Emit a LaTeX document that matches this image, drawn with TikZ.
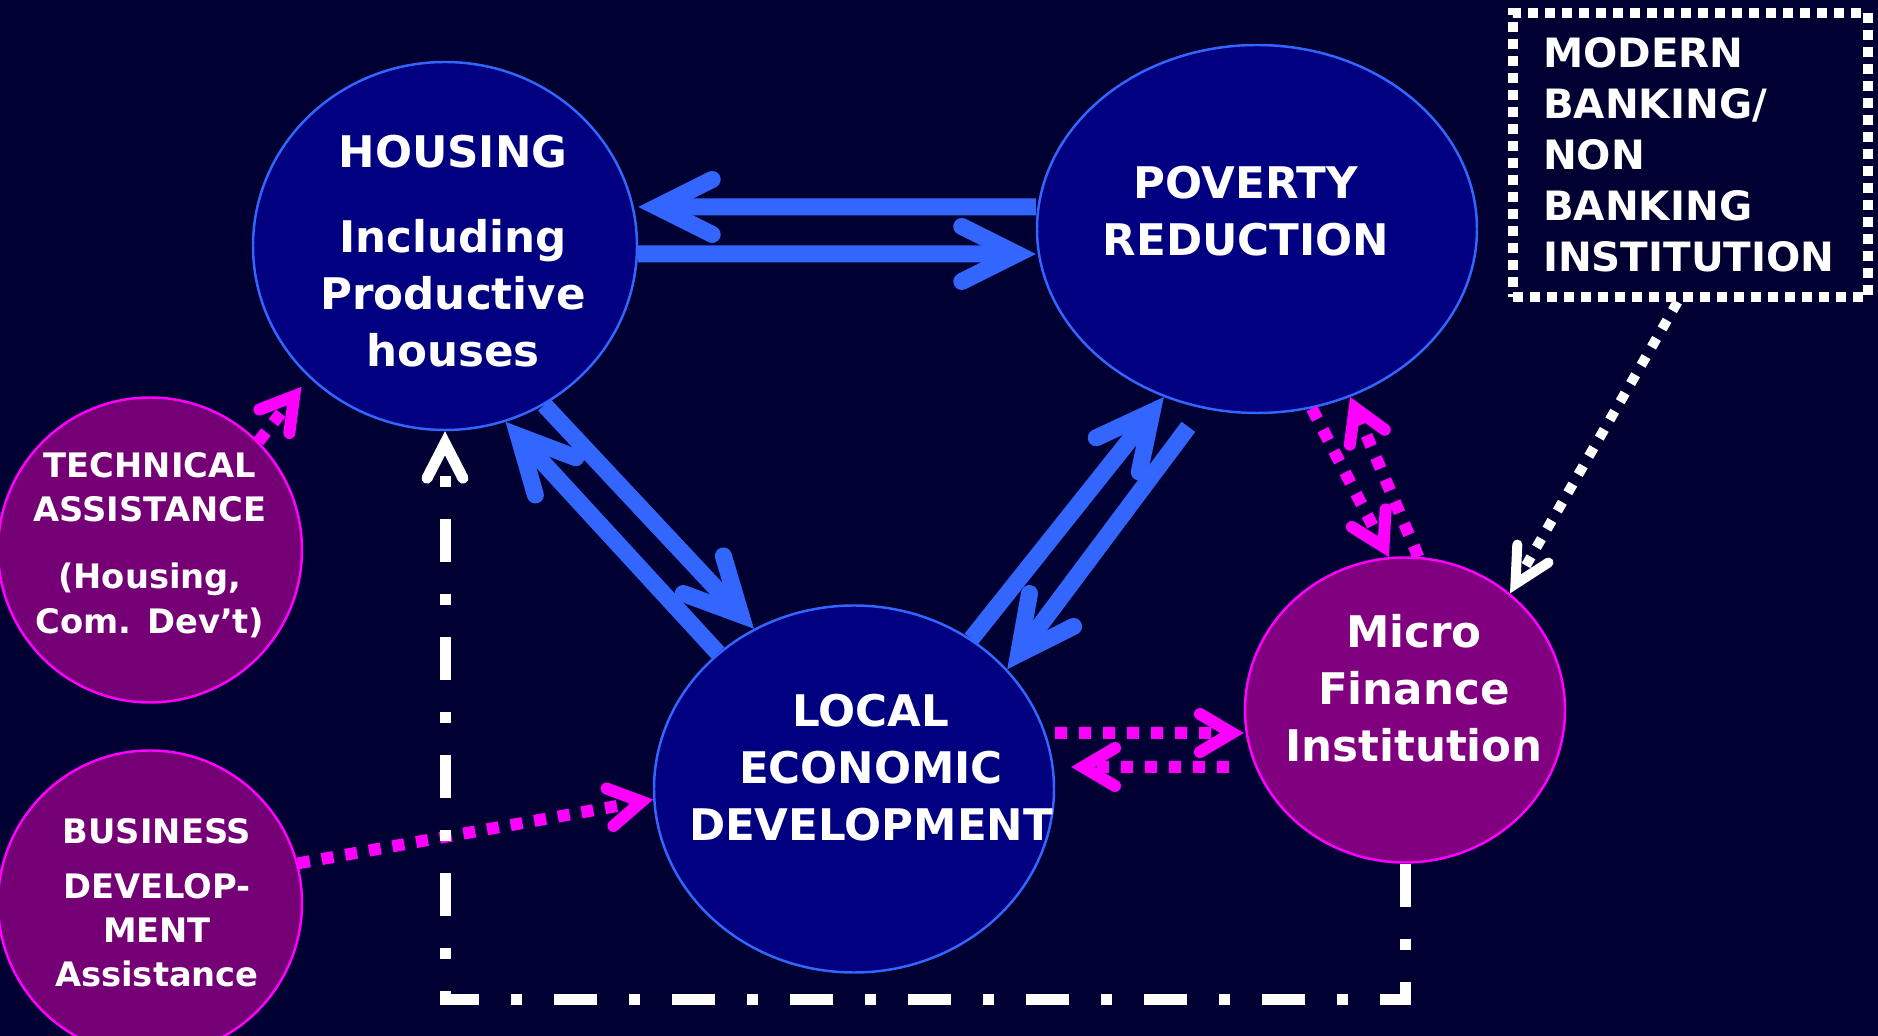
\documentclass[tikz,border=0pt]{standalone}
\usepackage{fontspec}
\setmainfont{DejaVu Sans}
\usepackage{tikz}
\usetikzlibrary{arrows.meta,shapes.geometric}
\definecolor{night}{HTML}{000033}
\definecolor{navy}{HTML}{000080}
\definecolor{linkblue}{HTML}{3366FF}
\definecolor{plum}{HTML}{800080}
\definecolor{darkplum}{HTML}{750075}
\definecolor{pink}{HTML}{FF00FF}
\tikzset{
  flow/.style={-{Straight Barb[length=5.5mm,width=5.5mm,line cap=round,line join=miter]},
    line width=1.7mm,draw=linkblue},
  dotflow/.style={-{Straight Barb[length=3.2mm,width=3.8mm,line cap=round,line join=miter]},
    line width=1.2mm,draw=pink,dash pattern=on 1.2mm off 1.2mm},
  whiteflow/.style={-{Straight Barb[length=3.5mm,width=3.6mm,line cap=round,line join=miter]},
    line width=1mm,draw=white,dash pattern=on 1mm off 1.1mm},
  loopflow/.style={-{Straight Barb[length=3.5mm,width=3.6mm,line cap=round,line join=miter]},
    line width=1.1mm,draw=white,dash pattern=on 4.3mm off 3.2mm on 1.1mm off 3.2mm},
  bigcircle/.style={ellipse,draw=linkblue,line width=0.7pt,fill=navy,inner sep=0pt},
  smallcircle/.style={ellipse,draw=pink,line width=0.7pt,fill=plum,inner sep=0pt},
  bigtext/.style={text=white,align=center,font=\bfseries\fontsize{12.4}{16.2}\selectfont},
  smalltext/.style={text=white,align=center,font=\bfseries\fontsize{9.6}{12.6}\selectfont},
  bankbox/.style={draw=white,line width=1mm,dash pattern=on 1mm off 0.7mm,text=white,
    align=left,text width=2.95cm,minimum width=3.55cm,minimum height=2.84cm,
    inner xsep=0.3cm,font=\bfseries\fontsize{11.5}{14.5}\selectfont}
}

\begin{document}
\begin{tikzpicture}
  \useasboundingbox (0,0) rectangle (18.78,10.36);
  \fill[night] (0,0) rectangle (18.78,10.36);

  \node[bigcircle,minimum width=3.84cm,minimum height=3.68cm] (housing) at (4.45,7.90) {};
  \node[bigcircle,minimum width=4.40cm,minimum height=3.68cm] (poverty) at (12.57,8.07) {};
  \node[bigcircle,minimum width=4.00cm,minimum height=3.67cm] (led) at (8.54,2.47) {};
  \node[smallcircle,minimum width=3.20cm,minimum height=3.05cm] (micro) at (14.05,3.26) {};
  \node[smallcircle,fill=darkplum,minimum width=3.04cm,minimum height=3.05cm] (tech) at (1.50,4.86) {};
  \node[smallcircle,fill=darkplum,minimum width=3.04cm,minimum height=3.05cm] (business) at (1.50,1.33) {};
  \node[bankbox] (bank) at (16.905,8.81) {MODERN\\BANKING/\\NON\\BANKING\\INSTITUTION};

  \node[bigtext] (housing-text) at (4.53,7.845) {HOUSING\\[8pt]Including\\Productive\\houses};
  \node[bigtext] (poverty-text) at (12.46,8.25) {POVERTY\\REDUCTION};
  \node[bigtext] (led-text) at (8.71,2.68) {LOCAL\\ECONOMIC\\DEVELOPMENT};
  \node[bigtext] (micro-text) at (14.14,3.475) {Micro\\Finance\\Institution};
  \node[smalltext] (tech-text) at (1.50,4.91) {TECHNICAL\\ASSISTANCE\\[6.5pt](Housing,\\Com. Dev’t)};
  \node[smalltext] (business-text) at (1.57,1.33) {BUSINESS\\[3pt]DEVELOP-\\MENT\\Assistance};

  % blue two-way links between the three main circles
  \draw[flow] ([yshift=2.2mm]poverty.west) -- ([yshift=3.9mm]housing.east);
  \draw[flow] ([yshift=-0.8mm]housing.east) -- ([yshift=-2.5mm]poverty.west);
  \draw[flow] (housing.-58) -- (led.122);
  \draw[flow] (led.135) -- (housing.-71);
  \draw[flow] (led.52) -- (poverty.241);
  \draw[flow,shorten <=2.3mm] (poverty.253) -- (led.38);

  % support links
  \draw[dotflow] (micro.85) -- (poverty.-61);
  \draw[dotflow] (poverty.-73) -- (micro.96);
  \draw[dotflow] ([yshift=5.6mm]led.east) -- ([yshift=-2.3mm]micro.west);
  \draw[dotflow,shorten <=1.5mm,shorten >=1.6mm] ([yshift=-5.7mm]micro.west) -- ([yshift=2.2mm]led.east);
  \draw[dotflow,shorten >=1.2mm] (tech.45) -- (housing.224);
  \draw[dotflow] (business.15) -- (led.183);

  \draw[whiteflow] ([xshift=-1.3mm]bank.south) -- (micro.48);
  \draw[loopflow] (micro.south) -- ++(0,-1.36) -| (housing.south);
\end{tikzpicture}
\end{document}
